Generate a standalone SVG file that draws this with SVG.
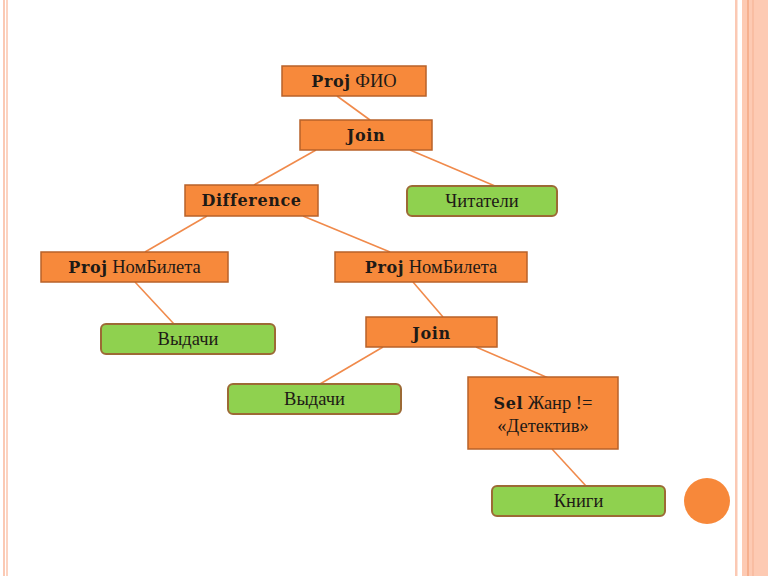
<svg xmlns="http://www.w3.org/2000/svg" width="768" height="576" viewBox="0 0 768 576">
<style>
.op{fill:#F7893B;stroke:#B8622A;stroke-width:1.5}
.rel{fill:#8FD14F;stroke:#9C6A35;stroke-width:2}
.t{font-family:"Liberation Serif","DejaVu Serif",serif;font-size:18.5px;fill:#1E1A16;text-anchor:middle}
.b{font-family:"DejaVu Serif","Liberation Serif",serif;font-weight:bold;font-size:16px;letter-spacing:0.6px}
.c line{stroke:#F08A4B;stroke-width:1.6}
</style>
<rect width="768" height="576" fill="#FFFFFF"/>
<g id="frame">
<rect x="3" y="0" width="2" height="576" fill="#FBC9B4"/>
<rect x="6" y="0" width="2" height="576" fill="#FCD3C1"/>
<rect x="735" y="0" width="2.5" height="576" fill="#FBC9B4"/>
<rect x="742" y="0" width="26" height="576" fill="#FDCAB3"/>
<rect x="747" y="0" width="2" height="576" fill="#F6B08F"/>
<rect x="752" y="0" width="2" height="576" fill="#F9BDA2"/>
</g>
<g class="c" id="connectors">
<line x1="337" y1="96" x2="370" y2="120"/>
<line x1="316" y1="150" x2="254" y2="185"/>
<line x1="410" y1="150" x2="495" y2="186"/>
<line x1="207" y1="216" x2="145" y2="252"/>
<line x1="303" y1="216" x2="390" y2="252"/>
<line x1="135" y1="282" x2="174" y2="324"/>
<line x1="413" y1="282" x2="443" y2="317"/>
<line x1="383" y1="347" x2="320" y2="384"/>
<line x1="476" y1="347" x2="560" y2="383"/>
<line x1="552" y1="449" x2="586" y2="486"/>
</g>
<g id="n1"><rect class="op" x="282" y="66" width="144" height="30"/><text class="t" x="354" y="87"><tspan class="b">Proj</tspan> ФИО</text></g>
<g id="n2"><rect class="op" x="300" y="120" width="132" height="30"/><text class="t b" x="366" y="141">Join</text></g>
<g id="n3"><rect class="op" x="185" y="185" width="133" height="31"/><text class="t b" x="251.5" y="206">Difference</text></g>
<g id="n4"><rect class="rel" x="407" y="186" width="150" height="30" rx="5"/><text class="t" x="482" y="207">Читатели</text></g>
<g id="n5"><rect class="op" x="41" y="252" width="187" height="30"/><text class="t" x="134.5" y="273"><tspan class="b">Proj</tspan> НомБилета</text></g>
<g id="n6"><rect class="op" x="335" y="252" width="192" height="30"/><text class="t" x="431" y="273"><tspan class="b">Proj</tspan> НомБилета</text></g>
<g id="n7"><rect class="rel" x="101" y="324" width="174" height="30" rx="5"/><text class="t" x="188" y="345">Выдачи</text></g>
<g id="n8"><rect class="op" x="366" y="317" width="131" height="30"/><text class="t b" x="431.5" y="339">Join</text></g>
<g id="n9"><rect class="rel" x="228" y="384" width="173" height="30" rx="5"/><text class="t" x="314.5" y="405">Выдачи</text></g>
<g id="n10"><rect class="op" x="468" y="377" width="150" height="72"/><text class="t" x="543" y="409"><tspan class="b">Sel</tspan> Жанр !=</text><text class="t" x="543" y="432">«Детектив»</text></g>
<g id="n11"><rect class="rel" x="492" y="486" width="173" height="30" rx="5"/><text class="t" x="578.5" y="507">Книги</text></g>
<circle cx="707" cy="501" r="23" fill="#F7883A"/>
</svg>
